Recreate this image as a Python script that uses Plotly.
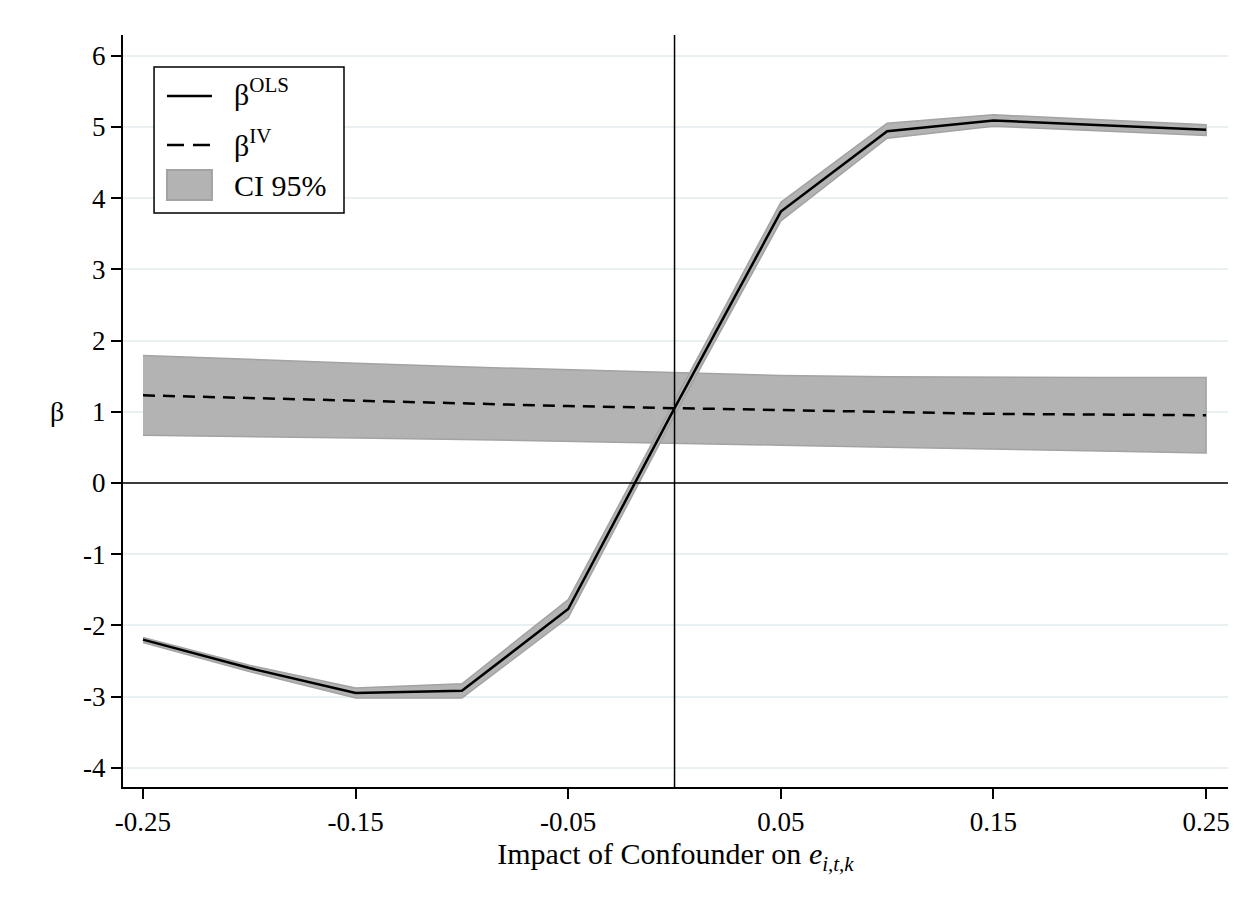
import plotly.graph_objects as go

# Data
x_vals = [-0.25, -0.20, -0.15, -0.10, -0.05, 0.00, 0.05, 0.10, 0.15, 0.20, 0.25]
ols = [-2.20, -2.60, -2.95, -2.92, -1.77, 1.05, 3.81, 4.94, 5.09, 5.02, 4.96]
ols_lo = [-2.24, -2.65, -3.02, -3.02, -1.89, 0.95, 3.68, 4.84, 5.01, 4.94, 4.88]
ols_hi = [-2.17, -2.56, -2.88, -2.82, -1.64, 1.15, 3.94, 5.05, 5.17, 5.10, 5.03]
iv = [1.23, 1.19, 1.15, 1.11, 1.08, 1.05, 1.02, 0.99, 0.97, 0.96, 0.95]
iv_lo = [0.67, 0.65, 0.63, 0.61, 0.58, 0.56, 0.53, 0.50, 0.47, 0.45, 0.42]
iv_hi = [1.79, 1.73, 1.68, 1.63, 1.59, 1.55, 1.51, 1.49, 1.48, 1.48, 1.48]

xticks = [-0.25, -0.15, -0.05, 0.05, 0.15, 0.25]
xticklabels = ["-0.25", "-0.15", "-0.05", "0.05", "0.15", "0.25"]
yticks = [-4, -3, -2, -1, 0, 1, 2, 3, 4, 5, 6]
yticklabels = ["-4", "-3", "-2", "-1", "0", "1", "2", "3", "4", "5", "6"]
legend_labels = ["β<sup>OLS</sup>", "β<sup>IV</sup>", "CI 95%"]
x_title = "Impact of Confounder on <i>e<sub>i,t,k</sub></i>"
y_title = "β"

FONT = "Liberation Serif, Times New Roman, serif"
FILL = "#b3b3b3"
EDGE = "#a3a3a3"

fig = go.Figure()

fig.add_trace(go.Scatter(
    x=x_vals + x_vals[::-1], y=iv_hi + iv_lo[::-1],
    fill="toself", fillcolor=FILL, line=dict(color=EDGE, width=1.5),
    mode="lines", name=legend_labels[2], showlegend=False, hoverinfo="skip"))
fig.add_trace(go.Scatter(
    x=x_vals + x_vals[::-1], y=ols_hi + ols_lo[::-1],
    fill="toself", fillcolor=FILL, line=dict(color=EDGE, width=1.5),
    mode="lines", name=legend_labels[2], showlegend=False, hoverinfo="skip"))
fig.add_trace(go.Scatter(
    x=x_vals, y=ols, mode="lines", line=dict(color="black", width=2.5),
    name=legend_labels[0], showlegend=False))
fig.add_trace(go.Scatter(
    x=x_vals, y=iv, mode="lines", line=dict(color="black", width=2.5, dash="12px,8px"),
    name=legend_labels[1], showlegend=False))

# reference lines
fig.add_shape(type="line", xref="x", yref="paper", x0=0, x1=0, y0=0, y1=1,
              line=dict(color="black", width=1.5), layer="above")
fig.add_shape(type="line", xref="paper", yref="y", x0=0, x1=1, y0=0, y1=0,
              line=dict(color="black", width=1.5), layer="above")

# manual legend (paper coordinates)
fig.add_shape(type="rect", xref="paper", yref="paper", x0=0.0281, x1=0.200,
              y0=0.7633, y1=0.9574, line=dict(color="black", width=1.5),
              fillcolor="white", layer="above")
fig.add_shape(type="line", xref="paper", yref="paper", x0=0.0398, x1=0.0805,
              y0=0.9189, y1=0.9189, line=dict(color="black", width=2.5), layer="above")
fig.add_shape(type="line", xref="paper", yref="paper", x0=0.0398, x1=0.0805,
              y0=0.8537, y1=0.8537, line=dict(color="black", width=2.5, dash="17px,9px"),
              layer="above")
fig.add_shape(type="rect", xref="paper", yref="paper", x0=0.0398, x1=0.0805,
              y0=0.7806, y1=0.8205, line=dict(color=EDGE, width=2),
              fillcolor=FILL, layer="above")
for lab, yy in zip(legend_labels, [0.924, 0.857, 0.800]):
    fig.add_annotation(xref="paper", yref="paper", x=0.0985, y=yy, text=lab,
                       showarrow=False, xanchor="left", yanchor="middle",
                       font=dict(family=FONT, size=30, color="black"))

# upright y-axis title
fig.add_annotation(xref="paper", yref="paper", x=-0.0597, y=0.5, text=y_title,
                   showarrow=False, xanchor="center", yanchor="middle", textangle=0,
                   font=dict(family=FONT, size=28, color="black"))

fig.update_layout(
    width=1240, height=891,
    margin=dict(l=115, r=20, t=27, b=112),
    paper_bgcolor="white", plot_bgcolor="white",
    font=dict(family=FONT, size=28, color="black"),
    showlegend=False,
)
fig.update_xaxes(
    range=[-0.2594, 0.2603], tickvals=xticks, ticktext=xticklabels,
    showgrid=False, zeroline=False, showline=True, linecolor="black", linewidth=2,
    ticks="outside", ticklen=10, tickwidth=1.5, tickcolor="black",
    tickfont=dict(family=FONT, size=27),
    title=dict(text=x_title, font=dict(family=FONT, size=30), standoff=6),
)
fig.update_yaxes(
    range=[-4.27, 6.29], tickvals=yticks, ticktext=yticklabels,
    showgrid=True, gridcolor="#e8f0f2", gridwidth=2,
    zeroline=False, showline=True, linecolor="black", linewidth=2,
    ticks="outside", ticklen=10, tickwidth=1.5, tickcolor="black",
    tickfont=dict(family=FONT, size=27),
)

fig.write_html("out.html")
